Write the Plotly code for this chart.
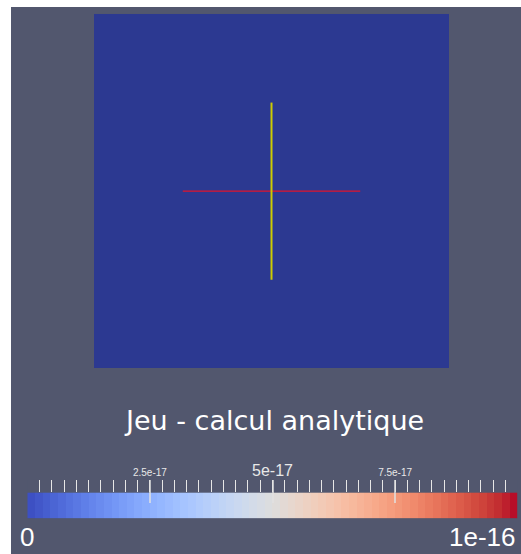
import numpy as np
import plotly.graph_objects as go

# ---------------- data ----------------
# ParaView "Cool to Warm" colour map (position, R, G, B)
cmap_pos = [0.0, 0.03125, 0.0625, 0.09375, 0.125, 0.15625, 0.1875, 0.21875, 0.25,
            0.28125, 0.3125, 0.34375, 0.375, 0.40625, 0.4375, 0.46875, 0.5,
            0.53125, 0.5625, 0.59375, 0.625, 0.65625, 0.6875, 0.71875, 0.75,
            0.78125, 0.8125, 0.84375, 0.875, 0.90625, 0.9375, 0.96875, 1.0]
cmap_r = [59, 68, 77, 87, 98, 108, 119, 130, 141, 152, 163, 174, 184, 194, 204, 213, 221,
          229, 236, 241, 245, 247, 247, 247, 244, 241, 236, 229, 222, 213, 203, 192, 180]
cmap_g = [76, 90, 104, 117, 130, 142, 154, 165, 176, 185, 194, 201, 208, 213, 217, 219, 221,
          216, 211, 204, 196, 187, 177, 166, 154, 141, 127, 112, 96, 80, 62, 40, 4]
cmap_b = [192, 204, 215, 225, 234, 241, 247, 251, 254, 255, 255, 253, 249, 244, 238, 230, 221,
          209, 197, 185, 173, 160, 148, 135, 123, 111, 99, 88, 77, 66, 56, 47, 38]

# field "Jeu" (analytical computation): zero everywhere on the square
grid_x = [-1.0, -0.8, -0.6, -0.4, -0.2, 0.0, 0.2, 0.4, 0.6, 0.8, 1.0]
grid_y = [-1.0, -0.8, -0.6, -0.4, -0.2, 0.0, 0.2, 0.4, 0.6, 0.8, 1.0]
jeu_values = [[0.0] * 10 for _ in range(10)]

value_min = 0.0
value_max = 1e-16

# centre axes glyph
glyph_x_line_x = [-0.5, 0.5]
glyph_x_line_y = [0.0, 0.0]
glyph_y_line_x = [0.0, 0.0]
glyph_y_line_y = [-0.5, 0.5]

# colour legend
n_bands = 64
major_ticks = [2.5e-17, 5e-17, 7.5e-17]
major_labels = ['<span style="font-size:10px">2.5e-17</span>', '5e-17',
                '<span style="font-size:10px">7.5e-17</span>']
minor_step = 2.5e-18
range_labels = ["0", "1e-16"]
title_text = "Jeu - calcul analytique"

# ---------------- styles ----------------
BG = "#52576e"
shade = 0.76


def scale(factor):
    return [[p, "rgb(%d,%d,%d)" % (r * factor, g * factor, b * factor)]
            for p, r, g, b in zip(cmap_pos, cmap_r, cmap_g, cmap_b)]


coolwarm = scale(1.0)
coolwarm_lit = scale(shade)

W, H = 521, 554
fx = lambda px: px / W
fy = lambda py: (H - py) / H

fig = go.Figure()

# main surface
fig.add_trace(go.Heatmap(x=grid_x, y=grid_y, z=jeu_values, zmin=value_min, zmax=value_max,
                         colorscale=coolwarm_lit, showscale=False, hoverinfo="skip",
                         xaxis="x", yaxis="y"))
fig.add_trace(go.Scatter(x=glyph_x_line_x, y=glyph_x_line_y, mode="lines",
                         line=dict(color="#e0142c", width=1.2), hoverinfo="skip",
                         xaxis="x", yaxis="y"))
fig.add_trace(go.Scatter(x=glyph_y_line_x, y=glyph_y_line_y, mode="lines",
                         line=dict(color="#cccc00", width=2), hoverinfo="skip",
                         xaxis="x", yaxis="y"))

# colour legend bar
edges = np.linspace(value_min, value_max, n_bands + 1)
mids = (edges[:-1] + edges[1:]) / 2
fig.add_trace(go.Heatmap(x=edges, y=[0, 1], z=[mids], zmin=value_min, zmax=value_max,
                         colorscale=coolwarm, showscale=False, hoverinfo="skip",
                         xaxis="x2", yaxis="y2"))
fig.add_trace(go.Scatter(x=[value_min, value_max], y=[-0.1, -0.1], mode="markers",
                         marker=dict(symbol="line-ns-open", size=5,
                                     line=dict(color=[coolwarm[0][1], coolwarm[-1][1]], width=1)),
                         cliponaxis=False, hoverinfo="skip", xaxis="x2", yaxis="y2"))

# pixel layout of the scene
sq_l, sq_r, sq_t, sq_b = 94, 449, 14, 368
area_l, area_r, area_t, area_b = 11, 521, 7, 554
ppu = (sq_r - sq_l) / 2.0
xr = [-1 - (sq_l - area_l) / ppu, 1 + (area_r - sq_r) / ppu]
yr = [-1 - (area_b - sq_b) / ppu, 1 + (sq_t - area_t) / ppu]

bar_l, bar_r, bar_t, bar_b, tick_top = 27.3, 517.7, 492.7, 518.3, 480
y2_top = (bar_b - tick_top) / (bar_b - bar_t)

minor_vals = [i * minor_step for i in range(int(round(value_max / minor_step)) + 1)]

fig.update_layout(
    width=W, height=H, margin=dict(l=0, r=0, t=0, b=0),
    paper_bgcolor="white", plot_bgcolor=BG, showlegend=False,
    font=dict(family="Liberation Sans, Arial, sans-serif", color="#f0f0f0"),
    xaxis=dict(domain=[fx(area_l), fx(area_r)], range=xr, visible=False, fixedrange=True),
    yaxis=dict(domain=[fy(area_b), fy(area_t)], range=yr, visible=False, fixedrange=True),
    xaxis2=dict(domain=[fx(bar_l), fx(bar_r)], range=[value_min, value_max], anchor="y2",
                side="top", showgrid=False, zeroline=False, showline=False,
                tickmode="array", tickvals=major_ticks, ticktext=major_labels,
                ticks="inside", ticklen=23, tickwidth=2, tickcolor="rgba(225,225,225,0.75)",
                tickfont=dict(size=16, color="#e8e8e8"),
                minor=dict(ticks="inside", ticklen=12, tickwidth=1, tickcolor="#e6e6e6",
                           tickmode="array", tickvals=minor_vals),
                fixedrange=True),
    yaxis2=dict(domain=[fy(bar_b), fy(tick_top)], range=[0, y2_top], visible=False,
                fixedrange=True),
    annotations=[
        dict(text=title_text, xref="paper", yref="paper", x=fx(274), y=fy(420),
             xanchor="center", yanchor="middle", showarrow=False,
             font=dict(family="DejaVu Sans, sans-serif", size=27, color="white")),
        dict(text=range_labels[0], xref="x2", yref="paper", x=value_min, y=fy(537),
             xanchor="center", yanchor="middle", showarrow=False,
             font=dict(size=26, color="white")),
        dict(text=range_labels[1], xref="x2", yref="paper", x=value_max, y=fy(537),
             xanchor="right", yanchor="middle", showarrow=False,
             font=dict(size=26, color="white")),
    ],
)

fig.write_html("out.html", config={"displayModeBar": False},
               post_script="document.body.style.margin='0';document.body.style.overflow='hidden';")
